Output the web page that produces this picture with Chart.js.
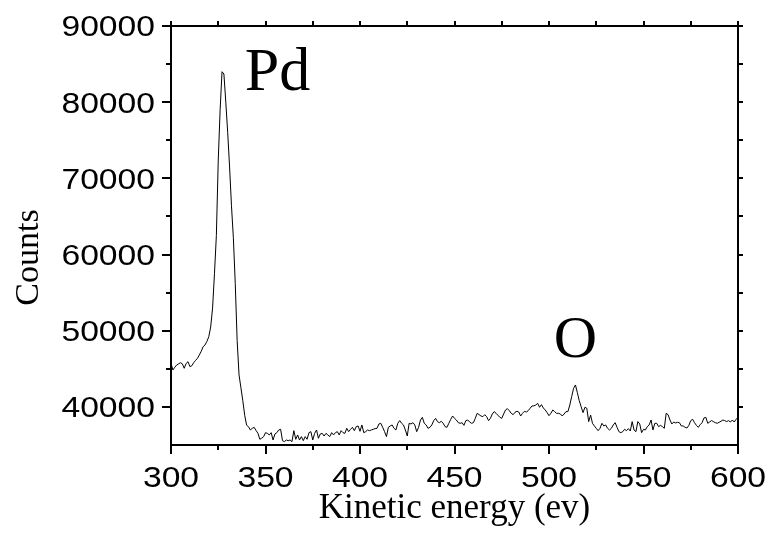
<!DOCTYPE html>
<html><head><meta charset="utf-8">
<script src="https://cdn.jsdelivr.net/npm/chart.js@4.4.0/dist/chart.umd.min.js"></script>
<style>html,body{margin:0;padding:0;background:#fff}canvas{display:block}</style>
</head><body>
<canvas id="c" width="771" height="537"></canvas>
<script>
const energy = [
300,301,302,303,304,305,306,307,308,309,310,311,312,313,314,315,316,317,318,319,
320,321,322,323,324,325,326,327,328,329,330,331,332,333,334,335,336,337,338,339,
340,341,342,343,344,345,346,347,348,349,350,351,352,353,354,355,356,357,358,359,
360,361,362,363,364,365,366,367,368,369,370,371,372,373,374,375,376,377,378,379,
380,381,382,383,384,385,386,387,388,389,390,391,392,393,394,395,396,397,398,399,
400,401,402,403,404,405,406,407,408,409,410,411,412,413,414,415,416,417,418,419,
420,421,422,423,424,425,426,427,428,429,430,431,432,433,434,435,436,437,438,439,
440,441,442,443,444,445,446,447,448,449,450,451,452,453,454,455,456,457,458,459,
460,461,462,463,464,465,466,467,468,469,470,471,472,473,474,475,476,477,478,479,
480,481,482,483,484,485,486,487,488,489,490,491,492,493,494,495,496,497,498,499,
500,501,502,503,504,505,506,507,508,509,510,511,512,513,514,515,516,517,518,519,
520,521,522,523,524,525,526,527,528,529,530,531,532,533,534,535,536,537,538,539,
540,541,542,543,544,545,546,547,548,549,550,551,552,553,554,555,556,557,558,559,
560,561,562,563,564,565,566,567,568,569,570,571,572,573,574,575,576,577,578,579,
580,581,582,583,584,585,586,587,588,589,590,591,592,593,594,595,596,597,598,599,
600];
const counts = [
45730,44850,45200,45500,45650,45800,45650,45070,45700,45940,
45290,45400,45800,46100,46380,46820,47300,47910,48130,48600,
49220,50500,53000,57500,62500,72400,79000,84000,83700,80000,
76000,71500,66400,62200,56200,48700,44200,42500,40800,38900,
37600,37400,36970,37190,37320,36900,36540,35750,35900,36090,
36620,36530,36320,36620,35660,36450,36620,36970,37060,35570,
35440,35660,35570,35660,35440,36880,35750,36320,35660,36100,
35570,36100,35750,36620,36750,35660,36530,36970,35880,36450,
36530,36180,36530,36320,36100,36620,36320,36620,36750,36320,
36880,36620,36530,37190,36750,37060,37320,36880,37410,37500,
36800,37630,36620,36750,36970,36880,36970,37060,37150,37190,
37760,37850,37320,36750,36100,37320,37500,37630,37190,36970,
37850,38200,37850,37630,36970,36180,37850,37760,37930,37630,
36750,37320,38280,38630,37850,37630,37190,37320,37630,38200,
38500,38070,37930,38110,37850,37410,37320,37850,38370,38810,
38500,38280,37930,37850,37930,37580,38200,38280,38020,37850,
37930,38500,39160,38980,38810,38720,38980,38720,38200,38500,
39070,39380,39160,38900,38630,38500,39070,39600,39770,39510,
39160,38980,39290,39420,39330,38810,39160,39420,39330,39510,
39820,40130,40130,40250,40470,39950,40300,39860,39600,39250,
38850,39160,39600,39380,39160,39160,39070,38810,39070,39380,
39380,40250,41350,42440,42880,41870,40820,40030,39250,39950,
39820,38070,38940,37850,37500,37190,36880,37190,37850,37500,
37630,37190,36970,37190,37630,37930,37320,36750,36620,36750,
37060,36880,37150,36840,38070,36970,36750,38070,37760,36620,
37060,36970,37410,37630,38280,36970,37850,37850,37410,37580,
37410,37190,39160,38980,38280,37760,38020,37890,37980,37930,
37500,37500,37320,37230,37580,38200,38370,37930,37580,37320,
37670,37930,38550,38630,37850,38020,38200,38070,37930,37850,
37980,38110,38280,38200,38070,38200,38020,38280,38020,38370,
38630];
const xMajorTicks = [300,350,400,450,500,550,600];
const xMinorTicks = [325,375,425,475,525,575];
const yMajorTicks = [40000,50000,60000,70000,80000,90000];
const yMinorTicks = [45000,55000,65000,75000,85000];
const yTitle = 'Counts';
const peakLabels = ['Pd','O'];
const peakLabelX = [339,502.5];
const peakLabelY = [81600,46550];

const framePlugin = {
  id: 'frame',
  afterDraw(chart) {
    const {ctx, chartArea: a, scales: {x, y}} = chart;
    ctx.save();
    ctx.strokeStyle = '#000';
    ctx.lineWidth = 2;
    ctx.strokeRect(a.left, a.top, a.right - a.left, a.bottom - a.top);
    ctx.beginPath();
    xMajorTicks.forEach(v => {
      const p = Math.round(x.getPixelForValue(v));
      ctx.moveTo(p, a.bottom); ctx.lineTo(p, a.bottom + 9);
      ctx.moveTo(p, a.top); ctx.lineTo(p, a.top - 5);
    });
    xMinorTicks.forEach(v => {
      const p = Math.round(x.getPixelForValue(v));
      ctx.moveTo(p, a.bottom); ctx.lineTo(p, a.bottom + 5);
      ctx.moveTo(p, a.top); ctx.lineTo(p, a.top - 5);
    });
    yMajorTicks.forEach(v => {
      const p = Math.round(y.getPixelForValue(v));
      ctx.moveTo(a.left, p); ctx.lineTo(a.left - 9, p);
      ctx.moveTo(a.right, p); ctx.lineTo(a.right + 5, p);
    });
    yMinorTicks.forEach(v => {
      const p = Math.round(y.getPixelForValue(v));
      ctx.moveTo(a.left, p); ctx.lineTo(a.left - 5, p);
      ctx.moveTo(a.right, p); ctx.lineTo(a.right + 5, p);
    });
    ctx.stroke();
    ctx.fillStyle = '#000';
    // tick labels (slightly wide sans, as in the reference)
    ctx.font = '29px "Liberation Sans", Arial, sans-serif';
    ctx.textBaseline = 'alphabetic';
    const sx = 1.16;
    ctx.textAlign = 'right';
    yMajorTicks.forEach(v => {
      const p = y.getPixelForValue(v);
      ctx.save();
      ctx.translate(a.left - 16, p + 10.4);
      ctx.scale(sx, 1);
      ctx.fillText(String(v), 0, 0);
      ctx.restore();
    });
    ctx.textAlign = 'center';
    xMajorTicks.forEach(v => {
      const p = x.getPixelForValue(v);
      ctx.save();
      ctx.translate(p, a.bottom + 42);
      ctx.scale(sx, 1);
      ctx.fillText(String(v), 0, 0);
      ctx.restore();
    });
    // y axis title
    ctx.save();
    ctx.font = '34px "Liberation Serif", "Times New Roman", serif';
    ctx.textAlign = 'center';
    ctx.textBaseline = 'middle';
    ctx.translate(29.4, (a.top + a.bottom) / 2 + 22);
    ctx.rotate(-Math.PI / 2);
    ctx.fillText(yTitle, 0, 0);
    ctx.restore();
    // peak labels
    ctx.textAlign = 'left';
    ctx.textBaseline = 'alphabetic';
    const sizes = [62, 60];
    peakLabels.forEach((t, i) => {
      ctx.font = sizes[i] + 'px "Liberation Serif", "Times New Roman", serif';
      ctx.fillText(t, x.getPixelForValue(peakLabelX[i]), y.getPixelForValue(peakLabelY[i]));
    });
    ctx.restore();
  }
};

new Chart(document.getElementById('c'), {
  type: 'line',
  data: {
    datasets: [{
      data: energy.map((e, i) => ({x: e, y: counts[i]})),
      borderColor: '#000',
      borderWidth: 1,
      pointRadius: 0,
      tension: 0,
      fill: false
    }]
  },
  options: {
    responsive: false,
    animation: false,
    layout: {padding: {top: 26, right: 33, left: 0, bottom: 0}},
    plugins: {legend: {display: false}, tooltip: {enabled: false}},
    scales: {
      x: {
        type: 'linear', min: 300, max: 600,
        grid: {display: false}, border: {display: false},
        afterBuildTicks: s => { s.ticks = xMajorTicks.map(v => ({value: v})); },
        afterFit: s => { s.height = 92; },
        ticks: {display: false},
        title: {
          display: true, text: 'Kinetic energy (ev)', color: '#000',
          font: {family: '"Liberation Serif", "Times New Roman", serif', size: 35},
          padding: {top: 0, bottom: 7}
        }
      },
      y: {
        type: 'linear', min: 35000, max: 90000,
        grid: {display: false}, border: {display: false},
        afterBuildTicks: s => { s.ticks = yMajorTicks.map(v => ({value: v})); },
        afterFit: s => { s.width = 171; },
        ticks: {display: false},
        title: {display: false}
      }
    }
  },
  plugins: [framePlugin]
});
</script>
</body></html>
